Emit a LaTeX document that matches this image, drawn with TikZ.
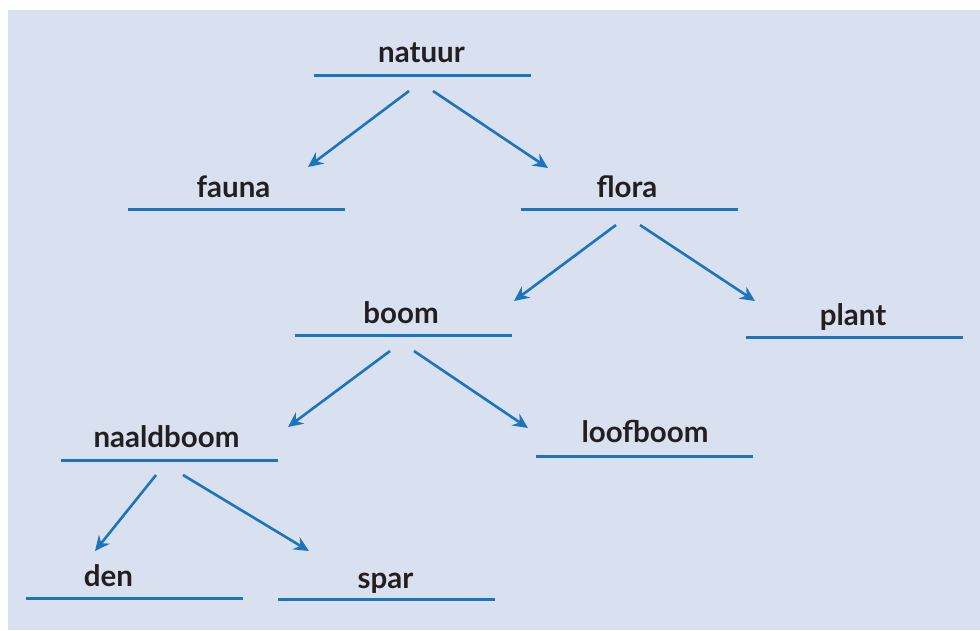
\documentclass[tikz,border=0pt]{standalone}
\usepackage{fontspec}
\setmainfont{Lato}
\usetikzlibrary{arrows.meta}
\definecolor{bgblue}{HTML}{D9E0F0}
\definecolor{lineblue}{HTML}{1C75BC}
\definecolor{txt}{HTML}{231F20}
\tikzset{
  lbl/.style={anchor=base, inner sep=0pt, text=txt, font=\bfseries\fontsize{29.5}{32}\selectfont},
  bar/.style={fill=lineblue, inner sep=0pt, minimum width=217pt, minimum height=3pt},
  arr/.style={draw=lineblue, line width=2.6pt, -{Stealth[length=15pt, width=14pt, inset=5pt]}}
}
\begin{document}
\begin{tikzpicture}[x=1pt,y=-1pt]
\useasboundingbox (0,0) rectangle (980,630);
\fill[bgblue] (8,10) rectangle (980,630);
% labels
\node[lbl] (natuur) at (421.5,62) {natuur};
\node[lbl] (fauna) at (233.5,197) {fauna};
\node[lbl] (flora) at (627,197) {flora};
\node[lbl] (boom) at (401,323) {boom};
\node[lbl] (plant) at (853,325) {plant};
\node[lbl] (naaldboom) at (166.5,447) {naaldboom};
\node[lbl] (loofboom) at (645,442) {loofboom};
\node[lbl] (den) at (108.5,586) {den};
\node[lbl] (spar) at (385.5,588) {spar};
% bars
\node[bar] (natuurbar) at (422.5,75) {};
\node[bar] (faunabar) at (236,209) {};
\node[bar] (florabar) at (629.5,209) {};
\node[bar] (boombar) at (403.5,335) {};
\node[bar] (plantbar) at (854.5,337) {};
\node[bar] (naaldboombar) at (169,460) {};
\node[bar] (loofboombar) at (644.5,456) {};
\node[bar] (denbar) at (134,598.5) {};
\node[bar] (sparbar) at (386,599) {};
% connector end points
\coordinate (n1) at (409,91);  \coordinate (n2) at (433,91);
\coordinate (fa) at (308,167); \coordinate (fl) at (548,168);
\coordinate (f1) at (616,225); \coordinate (f2) at (640,225);
\coordinate (bo) at (514,301); \coordinate (pl) at (755,301);
\coordinate (b1) at (390,351); \coordinate (b2) at (414,351);
\coordinate (na) at (288,427); \coordinate (lo) at (528,428);
\coordinate (a1) at (156,475); \coordinate (a2) at (183,475);
\coordinate (de) at (95,551);  \coordinate (sp) at (309,551);
% connectors
\draw[arr] (n1) -- (fa);
\draw[arr] (n2) -- (fl);
\draw[arr] (f1) -- (bo);
\draw[arr] (f2) -- (pl);
\draw[arr] (b1) -- (na);
\draw[arr] (b2) -- (lo);
\draw[arr] (a1) -- (de);
\draw[arr] (a2) -- (sp);
\end{tikzpicture}
\end{document}
